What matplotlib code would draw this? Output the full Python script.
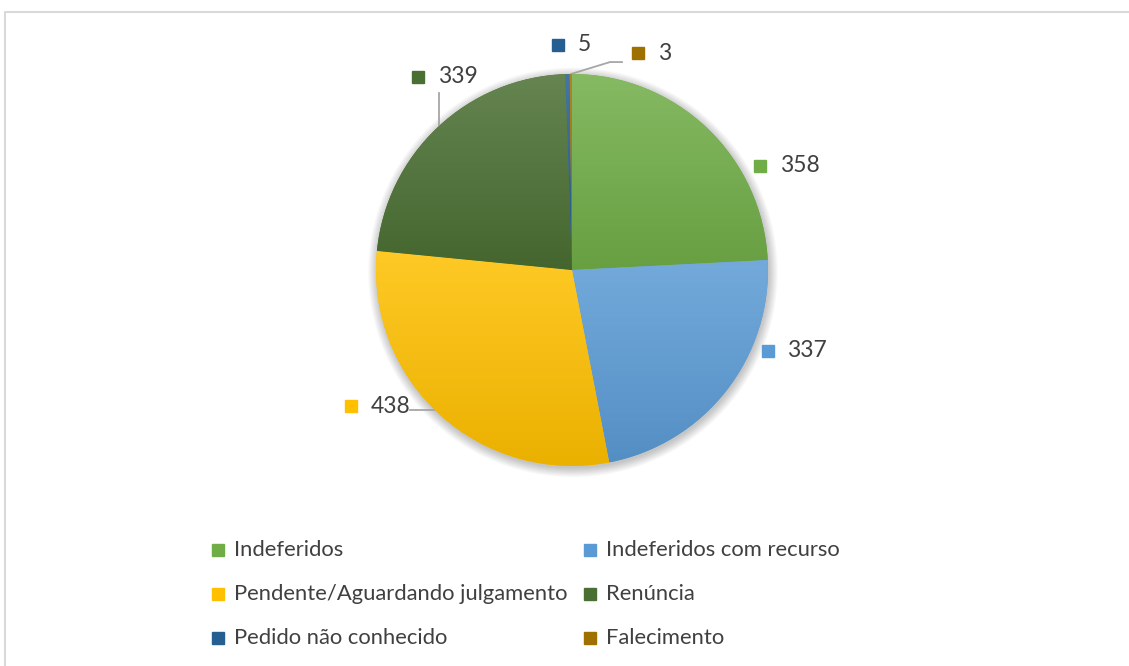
import numpy as np
import matplotlib.pyplot as plt
from matplotlib.colors import to_rgb
from matplotlib.patches import Circle

# Dados do gráfico
categorias = ["Indeferidos", "Indeferidos com recurso", "Pendente/Aguardando julgamento",
              "Renúncia", "Pedido não conhecido", "Falecimento"]
valores = [358, 337, 438, 339, 5, 3]
cores = ["#70AD47", "#5B9BD5", "#FFC000", "#4A6F32", "#255E91", "#9E7000"]

plt.rcParams['font.family'] = ['Lato', 'DejaVu Sans']
cor_texto = "#404040"
cor_linha = "#A6A6A6"

W, H = 1129, 666
fig = plt.figure(figsize=(W / 100, H / 100), dpi=100)

# camada de fundo em pixels (borda e legenda)
bg = fig.add_axes([0, 0, 1, 1])
bg.set_xlim(0, W)
bg.set_ylim(H, 0)
bg.axis("off")
bg.plot([5, 5, W], [H, 12, 12], color="#D9D9D9", lw=1.5)

# pizza
cx, cy, r = 572, 270, 196
ax = fig.add_axes([(cx - r) / W, (H - cy - r) / H, 2 * r / W, 2 * r / H])

# sombra suave
for k in range(10):
    ax.add_patch(Circle((0.005, -0.012), 1 + 0.005 * k, color="black", alpha=0.022,
                        zorder=0, clip_on=False, lw=0))

wedges, _ = ax.pie(valores, startangle=90, counterclock=False, colors=cores,
                   radius=1, wedgeprops=dict(linewidth=0))


def mistura(c, alvo, t):
    c = np.array(to_rgb(c))
    return c + (np.array(alvo) - c) * t


# preenchimento em gradiente (mais claro em cima)
for w, cor in zip(wedges, cores):
    vs = w.get_path().vertices
    topo = mistura(cor, (1, 1, 1), 0.15)
    base = mistura(cor, (0, 0, 0), 0.08)
    t = np.linspace(0, 1, 256)[:, None, None]
    img = topo * (1 - t) + base * t
    im = ax.imshow(img, extent=[vs[:, 0].min(), vs[:, 0].max(), vs[:, 1].min(), vs[:, 1].max()],
                   origin="upper", aspect="auto", zorder=2, interpolation="bilinear")
    im.set_clip_path(w)

# rótulos de dados
rotulo_pos = [(0.959, 0.531), (0.998, -0.413), (-1.128, -0.694),
              (-0.786, 0.985), (-0.071, 1.148), (0.337, 1.107)]
for v, cor, (mx, my) in zip(valores, cores, rotulo_pos):
    ax.plot(mx, my, marker="s", ms=8.5, color=cor, clip_on=False, zorder=5)
    ax.text(mx + 0.1, my, str(v), va="center", ha="left", fontsize=16.5,
            color=cor_texto, clip_on=False)

# linhas de chamada
ax.plot([-0.827, -0.70], [-0.714, -0.714], color=cor_linha, lw=1.3, clip_on=False, zorder=1)
ax.plot([-0.679, -0.679], [0.903, 0.735], color=cor_linha, lw=1.3, clip_on=False, zorder=1)
ax.plot([-0.005, 0.194, 0.255], [1.0, 1.061, 1.061], color=cor_linha, lw=1.3, clip_on=False, zorder=1)

ax.set_xlim(-1, 1)
ax.set_ylim(-1, 1)
ax.axis("off")

# legenda (duas colunas, ordem por linha)
col_x = [218, 590]
lin_y = [550, 594, 638]
for i, (nome, cor) in enumerate(zip(categorias, cores)):
    x = col_x[i % 2]
    y = lin_y[i // 2]
    bg.plot(x, y, marker="s", ms=8.5, color=cor)
    bg.text(x + 16, y, nome, va="center", ha="left", fontsize=15.8, color=cor_texto)

fig.savefig("out.png", dpi=100)
